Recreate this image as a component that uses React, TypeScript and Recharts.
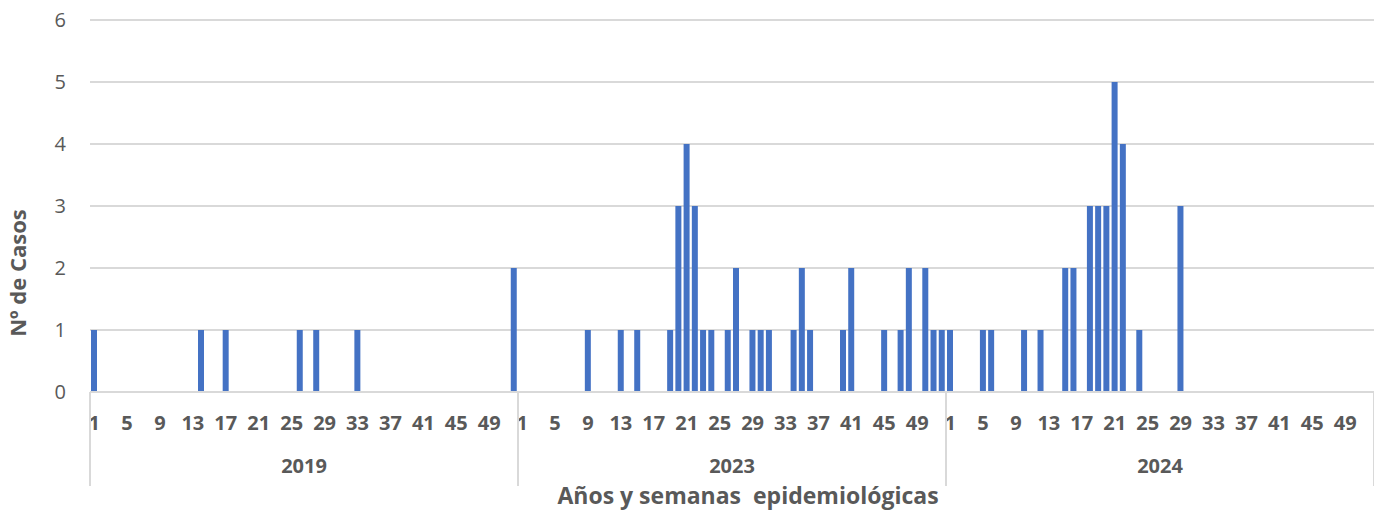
import { BarChart, Bar, XAxis, YAxis, CartesianGrid } from 'recharts';

const years = ['2019', '2023', '2024'];

// casos por semana epidemiológica (1..52)
const cases2019 = [
  1, 0, 0, 0, 0, 0, 0, 0, 0, 0, 0, 0, 0,
  1, 0, 0, 1, 0, 0, 0, 0, 0, 0, 0, 0, 1,
  0, 1, 0, 0, 0, 0, 1, 0, 0, 0, 0, 0, 0,
  0, 0, 0, 0, 0, 0, 0, 0, 0, 0, 0, 0, 2,
];
const cases2023 = [
  0, 0, 0, 0, 0, 0, 0, 0, 1, 0, 0, 0, 1,
  0, 1, 0, 0, 0, 1, 3, 4, 3, 1, 1, 0, 1,
  2, 0, 1, 1, 1, 0, 0, 1, 2, 1, 0, 0, 0,
  1, 2, 0, 0, 0, 1, 0, 1, 2, 0, 2, 1, 1,
];
const cases2024 = [
  1, 0, 0, 0, 1, 1, 0, 0, 0, 1, 0, 1, 0,
  0, 2, 2, 0, 3, 3, 3, 5, 4, 0, 1, 0, 0,
  0, 0, 3, 0, 0, 0, 0, 0, 0, 0, 0, 0, 0,
  0, 0, 0, 0, 0, 0, 0, 0, 0, 0, 0, 0, 0,
];
const yTicks = [0, 1, 2, 3, 4, 5, 6];

const series = [cases2019, cases2023, cases2024];
const data = years.flatMap((year, i) =>
  series[i].map((casos, w) => ({ key: `${year}-${w + 1}`, year, week: w + 1, casos }))
);

const W = 1374;
const H = 512;
const LEFT = 90;
const TOP = 20;
const PLOT_BOTTOM = 392;
const PITCH = (W - LEFT) / data.length;
const TEXT = '#595959';
const GRID = '#d9d9d9';
const FONT = '"Open Sans", Lato, sans-serif';

function WeekTick(props: any) {
  const { x, payload } = props;
  const idx = payload.index;
  const d = data[idx];
  if (!d) return null;
  const parts = [];
  if ((d.week - 1) % 4 === 0) {
    parts.push(
      <text key="w" x={x} y={430} textAnchor="middle" fill={TEXT} fontSize={20} fontWeight={700} fontFamily={FONT}>
        {d.week}
      </text>
    );
  }
  if (d.week === 1) {
    parts.push(<line key="l" x1={x - PITCH / 2} x2={x - PITCH / 2} y1={PLOT_BOTTOM} y2={486} stroke={GRID} strokeWidth={2} />);
  }
  if (d.week === 27) {
    parts.push(
      <text key="y" x={x - PITCH / 2} y={473} textAnchor="middle" fill={TEXT} fontSize={20} fontWeight={700} fontFamily={FONT}>
        {d.year}
      </text>
    );
  }
  if (idx === data.length - 1) {
    parts.push(<line key="r" x1={x + PITCH / 2} x2={x + PITCH / 2} y1={PLOT_BOTTOM} y2={486} stroke={GRID} strokeWidth={2} />);
  }
  return <g>{parts}</g>;
}

export default function App() {
  return (
    <div style={{ position: 'absolute', left: 0, top: 0, background: '#fff' }}>
      <BarChart
        width={W}
        height={H}
        data={data}
        margin={{ top: TOP, right: 0, left: 0, bottom: 0 }}
        barCategoryGap="12%"
      >
        <CartesianGrid vertical={false} stroke={GRID} strokeWidth={2} />
        <XAxis
          dataKey="key"
          interval={0}
          height={H - PLOT_BOTTOM}
          axisLine={{ stroke: GRID, strokeWidth: 2 }}
          tickLine={false}
          tick={<WeekTick />}
          label={() => (
            <text
              x={748}
              y={504}
              textAnchor="middle"
              fill={TEXT}
              fontSize={23}
              fontWeight={700}
              fontFamily={FONT}
              style={{ whiteSpace: 'pre' }}
            >
              {'Años y semanas  epidemiológicas'}
            </text>
          )}
        />
        <YAxis
          width={LEFT}
          domain={[0, 6]}
          ticks={yTicks}
          axisLine={false}
          tickLine={false}
          tickMargin={18}
          tick={{ fill: TEXT, fontSize: 20, fontFamily: FONT }}
          label={() => (
            <text
              x={0}
              y={0}
              transform="translate(26, 273) rotate(-90)"
              textAnchor="middle"
              fill={TEXT}
              fontSize={22}
              fontWeight={700}
              fontFamily={FONT}
            >
              Nº de Casos
            </text>
          )}
        />
        <Bar dataKey="casos" fill="#4472C4" isAnimationActive={false} />
      </BarChart>
    </div>
  );
}
